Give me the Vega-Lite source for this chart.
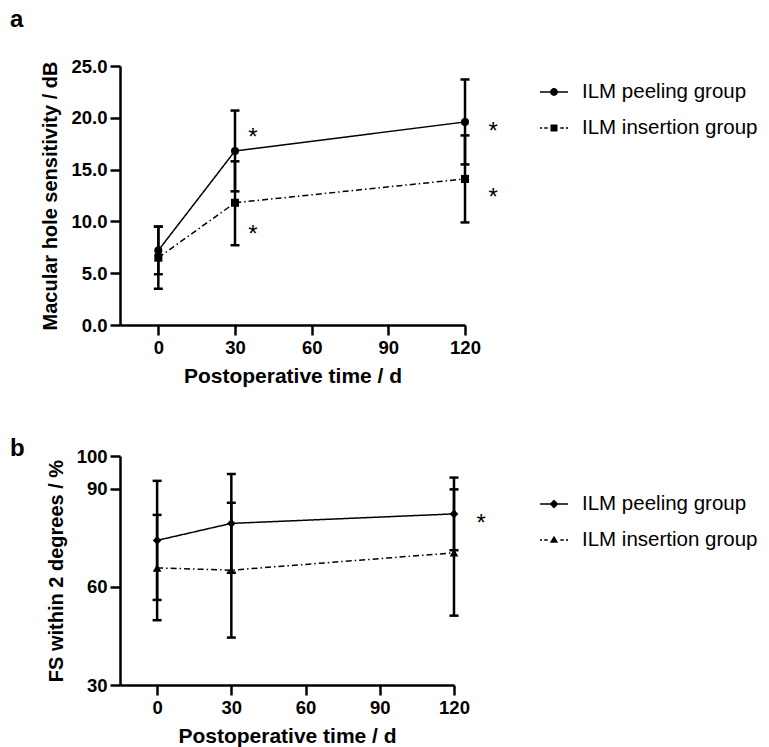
{
  "$schema": "https://vega.github.io/schema/vega-lite/v6.json",
  "background": "white",
  "padding": {"left": 10, "top": 8, "right": 5, "bottom": 2},
  "config": {
    "font": "Liberation Sans",
    "view": {"stroke": null},
    "axis": {
      "grid": false, "domainColor": "black", "domainWidth": 2.5, "tickColor": "black", "tickWidth": 2.5, "tickSize": 10,
      "labelFont": "Liberation Sans", "labelFontSize": 18.5, "labelFontWeight": "bold", "labelColor": "black", "labelPadding": 3,
      "labelFlush": false, "labelOverlap": false,
      "titleFont": "Liberation Sans", "titleFontSize": 20, "titleFontWeight": "bold", "titleColor": "black", "titlePadding": 10
    },
    "axisX": {"titleFontSize": 21, "titlePadding": 9},
    "legend": {
      "labelFont": "Liberation Sans", "labelFontSize": 20.5, "labelColor": "black", "labelFontWeight": "normal", "labelLimit": 400,
      "symbolSize": 784, "rowPadding": 11, "labelOffset": 14, "padding": 0, "symbolOpacity": 1,
      "symbolFillColor": "black", "symbolStrokeColor": "black", "symbolStrokeWidth": 0
    },
    "title": {"font": "Liberation Sans", "fontSize": 24, "fontWeight": "bold", "color": "black", "anchor": "start", "frame": "group"}
  },
  "datasets": {
    "a": [
      {"group": "ILM peeling group", "time": 0, "mean": 7.2, "lo": 4.9, "hi": 9.5},
      {"group": "ILM peeling group", "time": 30, "mean": 16.8, "lo": 12.9, "hi": 20.7},
      {"group": "ILM peeling group", "time": 120, "mean": 19.6, "lo": 15.5, "hi": 23.7},
      {"group": "ILM insertion group", "time": 0, "mean": 6.5, "lo": 3.5, "hi": 9.5},
      {"group": "ILM insertion group", "time": 30, "mean": 11.8, "lo": 7.7, "hi": 15.8},
      {"group": "ILM insertion group", "time": 120, "mean": 14.1, "lo": 9.9, "hi": 18.3}
    ],
    "b": [
      {"group": "ILM peeling group", "time": 0, "mean": 74.2, "lo": 56.0, "hi": 92.4},
      {"group": "ILM peeling group", "time": 30, "mean": 79.4, "lo": 64.3, "hi": 94.5},
      {"group": "ILM peeling group", "time": 120, "mean": 82.3, "lo": 71.2, "hi": 93.4},
      {"group": "ILM insertion group", "time": 0, "mean": 65.8, "lo": 49.8, "hi": 82.0},
      {"group": "ILM insertion group", "time": 30, "mean": 65.1, "lo": 44.5, "hi": 85.7},
      {"group": "ILM insertion group", "time": 120, "mean": 70.4, "lo": 51.2, "hi": 89.8}
    ],
    "sa": [
      {"time": 37, "y": 18.7, "label": "*"},
      {"time": 37, "y": 9.4, "label": "*"},
      {"time": 131, "y": 19.3, "label": "*"},
      {"time": 131, "y": 12.9, "label": "*"}
    ],
    "sb": [
      {"time": 131, "y": 81.5, "label": "*"}
    ]
  },
  "resolve": {"scale": {"shape": "independent"}, "legend": {"shape": "independent"}},
  "spacing": 50,
  "vconcat": [
    {
      "width": 345, "height": 259,
      "title": {"text": "a", "dx": -110, "offset": 6, "baseline": "alphabetic"},
      "data": {"name": "a"},
      "resolve": {"scale": {"shape": "independent"}, "legend": {"shape": "independent"}},
      "layer": [
        {
          "mark": {"type": "line", "color": "black", "strokeWidth": 1.5},
          "encoding": {
            "x": {"field": "time", "type": "quantitative", "scale": {"domain": [-15, 120], "nice": false, "zero": false},
                  "axis": {"values": [0, 30, 60, 90, 120], "title": "Postoperative time / d"}},
            "y": {"field": "mean", "type": "quantitative", "scale": {"domain": [0, 25], "nice": false},
                  "axis": {"values": [0, 5, 10, 15, 20, 25], "format": ".1f", "title": "Macular hole sensitivity / dB"}},
            "detail": {"field": "group", "type": "nominal"},
            "strokeDash": {"condition": {"test": "datum.group === 'ILM insertion group'", "value": [6, 3, 1.5, 3]}, "value": [1, 0]}
          }
        },
        {
          "mark": {"type": "rule", "color": "black", "strokeWidth": 2.5},
          "encoding": {
            "x": {"field": "time", "type": "quantitative"},
            "y": {"field": "lo", "type": "quantitative"},
            "y2": {"field": "hi"}
          }
        },
        {
          "mark": {"type": "tick", "color": "black", "thickness": 2.5, "size": 9, "orient": "horizontal", "opacity": 1},
          "encoding": {
            "x": {"field": "time", "type": "quantitative"},
            "y": {"field": "lo", "type": "quantitative"}
          }
        },
        {
          "mark": {"type": "tick", "color": "black", "thickness": 2.5, "size": 9, "orient": "horizontal", "opacity": 1},
          "encoding": {
            "x": {"field": "time", "type": "quantitative"},
            "y": {"field": "hi", "type": "quantitative"}
          }
        },
        {
          "mark": {"type": "point", "filled": true, "color": "black", "opacity": 1, "size": 65},
          "encoding": {
            "x": {"field": "time", "type": "quantitative"},
            "y": {"field": "mean", "type": "quantitative"},
            "shape": {"field": "group", "type": "nominal",
              "scale": {"domain": ["ILM peeling group", "ILM insertion group"], "range": ["circle", "square"]},
              "legend": null}
          }
        },
        {
          "transform": [{"filter": "false"}],
          "mark": {"type": "point", "filled": true, "color": "black", "opacity": 1},
          "encoding": {
            "x": {"field": "time", "type": "quantitative"},
            "y": {"field": "mean", "type": "quantitative"},
            "shape": {"field": "group", "type": "nominal",
              "scale": {"domain": ["ILM peeling group", "ILM insertion group"],
                        "range": ["M-1,-0.05H1V0.05H-1ZM0.28,0A0.28,0.28,0,1,1,-0.28,0A0.28,0.28,0,1,1,0.28,0Z", "M-1,-0.05H-0.85V0.05H-1ZM-0.7,-0.05H-0.45V0.05H-0.7ZM0.45,-0.05H0.7V0.05H0.45ZM0.85,-0.05H1V0.05H0.85ZM-0.25,-0.25H0.25V0.25H-0.25Z"]},
              "legend": {"title": null, "orient": "none", "legendX": 420, "legendY": 12}}
          }
        },
        {
          "data": {"name": "sa"},
          "mark": {"type": "text", "fontSize": 24, "font": "Liberation Sans", "color": "black", "baseline": "alphabetic", "dy": 14},
          "encoding": {
            "x": {"field": "time", "type": "quantitative"},
            "y": {"field": "y", "type": "quantitative"},
            "text": {"field": "label"}
          }
        }
      ]
    },
    {
      "width": 334, "height": 229,
      "title": {"text": "b", "dx": -110, "offset": -33, "baseline": "alphabetic"},
      "data": {"name": "b"},
      "resolve": {"scale": {"shape": "independent"}, "legend": {"shape": "independent"}},
      "layer": [
        {
          "mark": {"type": "line", "color": "black", "strokeWidth": 1.5},
          "encoding": {
            "x": {"field": "time", "type": "quantitative", "scale": {"domain": [-15, 120], "nice": false, "zero": false},
                  "axis": {"values": [0, 30, 60, 90, 120], "title": "Postoperative time / d"}},
            "y": {"field": "mean", "type": "quantitative", "scale": {"domain": [30, 100], "nice": false, "zero": false},
                  "axis": {"values": [30, 60, 90, 100], "title": "FS within 2 degrees / %"}},
            "detail": {"field": "group", "type": "nominal"},
            "strokeDash": {"condition": {"test": "datum.group === 'ILM insertion group'", "value": [6, 3, 1.5, 3]}, "value": [1, 0]}
          }
        },
        {
          "mark": {"type": "rule", "color": "black", "strokeWidth": 2.5},
          "encoding": {
            "x": {"field": "time", "type": "quantitative"},
            "y": {"field": "lo", "type": "quantitative"},
            "y2": {"field": "hi"}
          }
        },
        {
          "mark": {"type": "tick", "color": "black", "thickness": 2.5, "size": 9, "orient": "horizontal", "opacity": 1},
          "encoding": {
            "x": {"field": "time", "type": "quantitative"},
            "y": {"field": "lo", "type": "quantitative"}
          }
        },
        {
          "mark": {"type": "tick", "color": "black", "thickness": 2.5, "size": 9, "orient": "horizontal", "opacity": 1},
          "encoding": {
            "x": {"field": "time", "type": "quantitative"},
            "y": {"field": "hi", "type": "quantitative"}
          }
        },
        {
          "mark": {"type": "point", "filled": true, "color": "black", "opacity": 1, "size": 75},
          "encoding": {
            "x": {"field": "time", "type": "quantitative"},
            "y": {"field": "mean", "type": "quantitative"},
            "shape": {"field": "group", "type": "nominal",
              "scale": {"domain": ["ILM peeling group", "ILM insertion group"], "range": ["diamond", "triangle-up"]},
              "legend": null}
          }
        },
        {
          "transform": [{"filter": "false"}],
          "mark": {"type": "point", "filled": true, "color": "black", "opacity": 1},
          "encoding": {
            "x": {"field": "time", "type": "quantitative"},
            "y": {"field": "mean", "type": "quantitative"},
            "shape": {"field": "group", "type": "nominal",
              "scale": {"domain": ["ILM peeling group", "ILM insertion group"],
                        "range": ["M-1,-0.05H1V0.05H-1ZM0,-0.32L0.32,0L0,0.32L-0.32,0Z", "M-1,-0.05H-0.85V0.05H-1ZM-0.7,-0.05H-0.45V0.05H-0.7ZM0.45,-0.05H0.7V0.05H0.45ZM0.85,-0.05H1V0.05H0.85ZM0,-0.3L0.3,0.2L-0.3,0.2Z"]},
              "legend": {"title": null, "orient": "none", "legendX": 420, "legendY": 34}}
          }
        },
        {
          "data": {"name": "sb"},
          "mark": {"type": "text", "fontSize": 24, "font": "Liberation Sans", "color": "black", "baseline": "alphabetic", "dy": 14},
          "encoding": {
            "x": {"field": "time", "type": "quantitative"},
            "y": {"field": "y", "type": "quantitative"},
            "text": {"field": "label"}
          }
        }
      ]
    }
  ]
}
